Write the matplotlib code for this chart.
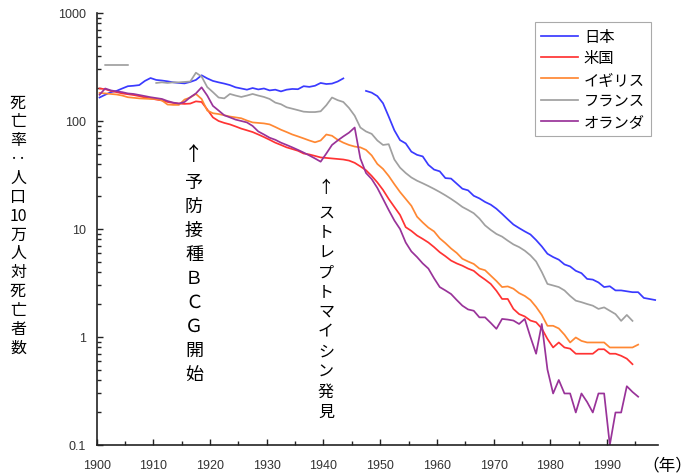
import numpy as np
import matplotlib
matplotlib.use("Agg")
import matplotlib.pyplot as plt
from matplotlib.ticker import FixedLocator, MultipleLocator, NullFormatter, LogLocator

plt.rcParams['font.family'] = ['Noto Sans CJK JP', 'DejaVu Sans']

nan = np.nan

# TB death rate per 100,000 population, one value per year
japan_start = 1900
japan = [165, 175, 185, 190, 200, 210, 212, 215, 235, 250,
         240, 237, 233, 228, 225, 223, 230, 240, 265, 248,
         235, 228, 222, 215, 205, 200, 195, 202, 196, 200,
         192, 195, 188, 195, 198, 197, 210, 207, 212, 225,
         220, 222, 232, 248, nan, nan, nan, 190, 183, 170,
         146, 110, 82, 66.5, 62, 52, 48.6, 47, 39.3, 35.5,
         34.2, 29.6, 29.3, 26.3, 23.6, 22.8, 20.3, 19.2, 17.8, 16.8,
         15.4, 13.8, 12.3, 11.0, 10.2, 9.5, 8.9, 7.9, 6.9, 5.9,
         5.5, 5.2, 4.7, 4.5, 4.1, 3.9, 3.45, 3.4, 3.2, 2.9,
         2.95, 2.7, 2.7, 2.65, 2.6, 2.6, 2.3, 2.25, 2.2]

us_start = 1900
us = [200, 197, 190, 185, 180, 177, 174, 170, 165, 162,
      158, 155, 150, 147, 145, 144, 145, 152, 150, 128,
      108, 100, 96, 93, 89, 85, 82, 79, 75, 71,
      67, 63, 60, 57, 55, 53, 50, 49, 47.5, 46,
      45.5, 45, 44.5, 44, 43, 41, 38, 35, 31, 27,
      23, 19, 16, 13.5, 10.4, 9.6, 8.7, 8.1, 7.5, 6.8,
      6.1, 5.6, 5.1, 4.8, 4.57, 4.3, 4.1, 3.7, 3.4, 3.1,
      2.68, 2.25, 2.25, 1.82, 1.63, 1.55, 1.42, 1.37, 1.2, 0.96,
      0.80, 0.89, 0.80, 0.78, 0.70, 0.70, 0.70, 0.70, 0.77, 0.77,
      0.70, 0.70, 0.67, 0.63, 0.56]

uk_start = 1900
uk = [182, 180, 178, 176, 172, 166, 164, 162, 161, 160,
      160, 155, 142, 141, 141, 158, 165, 178, 160, 125,
      118, 116, 113, 110, 108, 106, 101, 97, 96, 95,
      93, 88, 83, 79, 75, 72, 69, 66, 63.5, 66,
      75, 73, 67, 63, 60, 58, 57, 54, 48, 40,
      36, 31, 26, 22, 19, 16.4, 13, 11.5, 10.3, 9.5,
      8.2, 7.4, 6.6, 6.0, 5.3, 5.0, 4.75, 4.3, 4.15, 3.7,
      3.3, 2.9, 2.94, 2.8, 2.55, 2.4, 2.2, 1.9, 1.6, 1.27,
      1.27, 1.2, 1.05, 0.89, 0.99, 0.92, 0.89, 0.89, 0.89, 0.89,
      0.80, 0.80, 0.80, 0.80, 0.80, 0.85]

france_start = 1901
france = [330, 330, 330, 330, 330,
          nan, nan, nan, nan,
          225, 228, 225, 228, 228, 230, 232, 280, 258, 206,
          185, 165, 162, 178, 172, 167, 172, 178, 172, 167,
          160, 148, 143, 134, 130, 126, 122, 121, 121, 123,
          140, 165, 156, 150, 132, 112, 87, 80, 76, 66,
          60, 61, 44, 37, 33, 30, 28, 26.5, 25, 23.5,
          22, 20.5, 19, 17.5, 16, 15, 14, 12.5, 10.8, 9.8,
          9.0, 8.5, 7.8, 7.2, 6.8, 6.3, 5.7, 5.0, 4.0, 3.1,
          3.0, 2.9, 2.7, 2.4, 2.17, 2.1, 2.02, 1.95, 1.82, 1.88,
          1.75, 1.63, 1.41, 1.6, 1.41]

nl_start = 1900
netherlands = [175, 200, 192, 188, 185, 180, 178, 174, 170, 166,
               163, 160, 153, 148, 145, 150, 166, 180, 205, 172,
               138, 125, 113, 108, 103, 100, 97, 90, 80, 75,
               70, 67, 63, 60, 57, 54, 51, 48, 45, 42,
               50, 60, 66, 72, 78, 87, 45, 33, 29, 24,
               19, 15, 12, 10, 7.5, 6.2, 5.5, 4.8, 4.3, 3.5,
               2.9, 2.7, 2.5, 2.2, 1.95, 1.8, 1.75, 1.52, 1.52, 1.35,
               1.19, 1.47, 1.45, 1.42, 1.32, 1.47, 1.0, 0.70, 1.32, 0.5,
               0.3, 0.4, 0.3, 0.3, 0.2, 0.3, 0.25, 0.2, 0.3, 0.3,
               0.1, 0.2, 0.2, 0.35, 0.31, 0.28]

series = [
    ('日本', japan_start, japan, '#3a3aff'),
    ('米国', us_start, us, '#ff3333'),
    ('イギリス', uk_start, uk, '#ff8833'),
    ('フランス', france_start, france, '#a0a0a0'),
    ('オランダ', nl_start, netherlands, '#993399'),
]

ytick_vals = [0.1, 1, 10, 100, 1000]
ytick_labels = ['0.1', '1', '10', '100', '1000']
xtick_years = list(range(1900, 1991, 10))

ylabel_chars = ['死', '亡', '率', '‥', '人', '口', '10', '万', '人', '対', '死', '亡', '者', '数']
bcg_chars = ['↑', '予', '防', '接', '種', 'Ｂ', 'Ｃ', 'Ｇ', '開', '始']
sm_chars = ['↑', 'ス', 'ト', 'レ', 'プ', 'ト', 'マ', 'イ', 'シ', 'ン', '発', '見']
year_text = '（年）'

W, H = 696, 477
fig = plt.figure(figsize=(W / 100, H / 100), dpi=100)
ax = fig.add_axes([96.7 / W, 1 - 446 / H, (658 - 96.7) / W, (446 - 14) / H])

for name, start, vals, col in series:
    # points sit in the middle of each year's category
    x = start + np.arange(len(vals)) + 0.5
    ax.plot(x, vals, color=col, lw=1.25, label=name)

ax.set_yscale('log')
ax.set_ylim(0.1, 1000)
ax.set_xlim(1900, 1999)

ax.yaxis.set_major_locator(FixedLocator(ytick_vals))
ax.set_yticklabels(ytick_labels)
ax.yaxis.set_minor_locator(LogLocator(base=10, subs=np.arange(2, 10)))
ax.yaxis.set_minor_formatter(NullFormatter())

ax.xaxis.set_major_locator(FixedLocator(xtick_years))
ax.set_xticklabels([str(y) for y in xtick_years])
ax.xaxis.set_minor_locator(MultipleLocator(5))

ax.tick_params(which='both', direction='in', width=1, color='#222222',
               labelcolor='#333333', labelsize=9)
ax.tick_params(which='major', length=4)
ax.tick_params(which='minor', length=3)
ax.tick_params(axis='x', which='major', pad=10)
ax.tick_params(axis='y', which='major', pad=8)
for lab in ax.get_xticklabels() + ax.get_yticklabels():
    lab.set_fontfamily(['Liberation Sans', 'DejaVu Sans'])
for s in ['top', 'right']:
    ax.spines[s].set_visible(False)
for s in ['left', 'bottom']:
    ax.spines[s].set_linewidth(1.2)
    ax.spines[s].set_color('#222222')

leg = ax.legend(loc='upper left', bbox_to_anchor=(535 / W, 1 - 23 / H),
                bbox_transform=fig.transFigure, fancybox=False,
                edgecolor='#aaaaaa', framealpha=1, fontsize=11,
                handlelength=2.4, handletextpad=0.4, labelspacing=0.28,
                borderpad=0.4, borderaxespad=0)
leg.get_frame().set_linewidth(0.8)


def put(ch, x, y, size):
    fig.text(x / W, 1 - y / H, ch, ha='center', va='center', fontsize=size)


for i, ch in enumerate(ylabel_chars):
    put(ch, 18, 103 + 18.85 * i, 11.5)

put(bcg_chars[0], 194, 155, 14)
for i, ch in enumerate(bcg_chars[1:]):
    put(ch, 194, 183 + 24 * i, 13)

put(sm_chars[0], 326, 189, 12)
for i, ch in enumerate(sm_chars[1:]):
    put(ch, 326, 213 + 19.9 * i, 11.5)

put(year_text, 667, 466, 12)

fig.savefig('out.png', dpi=100)
